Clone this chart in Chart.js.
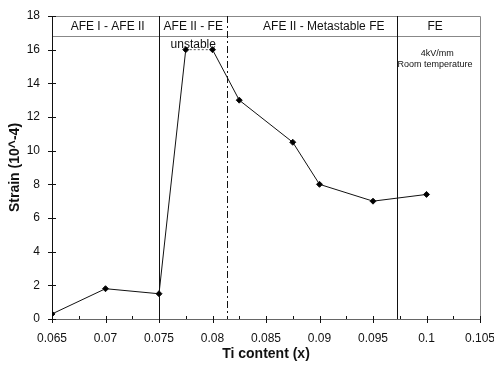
<!DOCTYPE html>
<html>
<head>
<meta charset="utf-8">
<script src="https://cdn.jsdelivr.net/npm/chart.js@4"></script>
<style>
  html, body { margin: 0; padding: 0; background: #fff; }
  #wrap { width: 494px; height: 366px; }
</style>
</head>
<body>
<div id="wrap"><canvas id="chart" width="494" height="366"></canvas></div>
<script>
// data
const tiContent = [0.065, 0.07, 0.075, 0.0775, 0.08, 0.0825, 0.0875, 0.09, 0.095, 0.1];
const strain = [0.3, 1.8, 1.5, 16, 16, 13, 10.5, 8, 7, 7.4];

// phase boundaries (x) and the header line (y)
const boundaries = [0.075, 0.0814, 0.0972];
const boundaryStyles = ['solid', 'dashdot', 'solid'];
const headerLine = 16.8;

const regionLabels = ['AFE I - AFE II', 'AFE II - FE', 'AFE II - Metastable FE', 'FE'];
const regionLabelX = [0.0702, 0.0782, 0.0904, 0.1008];
const notes = ['unstable', '4kV/mm', 'Room temperature'];
const noteX = [0.0782, 0.1010, 0.1008];
const noteY = [16.3, 15.8, 15.1];

const FONT = "'Liberation Sans', Arial, sans-serif";

const extras = {
  id: 'extras',
  beforeDatasetsDraw(chart) {
    const ctx = chart.ctx;
    const xs = chart.scales.x, ys = chart.scales.y;
    const a = chart.chartArea;
    ctx.save();
    // frame top / right
    ctx.strokeStyle = '#888';
    ctx.lineWidth = 1;
    ctx.beginPath();
    ctx.moveTo(a.left, a.top + 0.5);
    ctx.lineTo(a.right + 0.5, a.top + 0.5);
    ctx.lineTo(a.right + 0.5, a.bottom);
    ctx.stroke();
    // header line
    const hy = Math.round(ys.getPixelForValue(headerLine)) + 0.5;
    ctx.beginPath();
    ctx.moveTo(a.left, hy);
    ctx.lineTo(a.right, hy);
    ctx.stroke();
    // phase boundaries
    boundaries.forEach((b, i) => {
      const px = Math.round(xs.getPixelForValue(b)) + 0.5;
      ctx.strokeStyle = '#111';
      ctx.setLineDash(boundaryStyles[i] === 'dashdot' ? [7, 3, 2, 3] : []);
      ctx.beginPath();
      ctx.moveTo(px, a.top);
      ctx.lineTo(px, a.bottom);
      ctx.stroke();
    });
    ctx.setLineDash([]);
    // axes
    ctx.strokeStyle = '#111';
    ctx.beginPath();
    ctx.moveTo(a.left + 0.5, a.top);
    ctx.lineTo(a.left + 0.5, a.bottom);
    ctx.stroke();
    ctx.strokeStyle = '#666';
    ctx.beginPath();
    ctx.moveTo(a.left, a.bottom + 0.5);
    ctx.lineTo(a.right, a.bottom + 0.5);
    ctx.stroke();
    // y ticks
    ctx.strokeStyle = '#111';
    ys.ticks.forEach(t => {
      const py = Math.round(ys.getPixelForValue(t.value)) + 0.5;
      ctx.beginPath();
      ctx.moveTo(a.left - 4, py);
      ctx.lineTo(a.left + 4, py);
      ctx.stroke();
    });
    // x ticks (major crossing, minor above)
    xs.ticks.forEach((t, i) => {
      const px = Math.round(xs.getPixelForValue(t.value)) + 0.5;
      ctx.beginPath();
      ctx.moveTo(px, a.bottom - 3);
      ctx.lineTo(px, a.bottom + 4);
      ctx.stroke();
      if (i < xs.ticks.length - 1) {
        const mx = Math.round(xs.getPixelForValue(t.value + 0.0025)) + 0.5;
        ctx.beginPath();
        ctx.moveTo(mx, a.bottom - 3);
        ctx.lineTo(mx, a.bottom);
        ctx.stroke();
      }
    });
    // texts
    ctx.fillStyle = '#111';
    ctx.textAlign = 'center';
    ctx.textBaseline = 'middle';
    ctx.font = '12px ' + FONT;
    const ly = (ys.getPixelForValue(18) + ys.getPixelForValue(headerLine)) / 2 + 1;
    regionLabels.forEach((s, i) => ctx.fillText(s, xs.getPixelForValue(regionLabelX[i]), ly));
    notes.forEach((s, i) => {
      ctx.font = (i === 0 ? '12px ' : '9px ') + FONT;
      ctx.fillText(s, xs.getPixelForValue(noteX[i]), ys.getPixelForValue(noteY[i]));
    });
    ctx.restore();
  }
};

new Chart(document.getElementById('chart'), {
  type: 'line',
  data: {
    datasets: [{
      data: tiContent.map((x, i) => ({ x: x, y: strain[i] })),
      borderColor: '#111',
      backgroundColor: '#000',
      borderWidth: 1,
      pointStyle: 'rectRot',
      pointRadius: 3,
      pointHoverRadius: 3,
      tension: 0,
      segment: {
        borderDash: c => c.p0DataIndex === 3 ? [2, 2] : undefined,
        borderColor: c => c.p0DataIndex === 3 ? '#555' : undefined
      }
    }]
  },
  plugins: [extras],
  options: {
    responsive: false,
    animation: false,
    layout: { padding: { top: 16, right: 14, left: 0, bottom: 0 } },
    plugins: { legend: { display: false }, tooltip: { enabled: false } },
    scales: {
      x: {
        type: 'linear',
        min: 0.065,
        max: 0.105,
        grid: { display: false, drawTicks: false },
        border: { display: false },
        ticks: {
          stepSize: 0.005,
          padding: 12,
          color: '#111',
          font: { family: FONT, size: 12 },
          callback: v => String(Math.round(v * 1000) / 1000)
        },
        title: {
          display: true,
          text: 'Ti content (x)',
          color: '#111',
          font: { family: FONT, size: 14, weight: 'bold' },
          padding: { top: 0, bottom: 3 }
        },
        afterFit: s => { s.height = 47; s.paddingLeft = 0; s.paddingRight = 0; }
      },
      y: {
        min: 0,
        max: 18,
        grid: { display: false, drawTicks: false },
        border: { display: false },
        ticks: {
          stepSize: 2,
          padding: 12,
          color: '#111',
          font: { family: FONT, size: 12 }
        },
        title: {
          display: true,
          text: 'Strain (10^-4)',
          color: '#111',
          font: { family: FONT, size: 14, weight: 'bold' },
          padding: { top: 7, bottom: 0 }
        },
        afterFit: s => { s.width = 52; s.paddingTop = 0; s.paddingBottom = 0; }
      }
    }
  }
});
</script>
</body>
</html>
